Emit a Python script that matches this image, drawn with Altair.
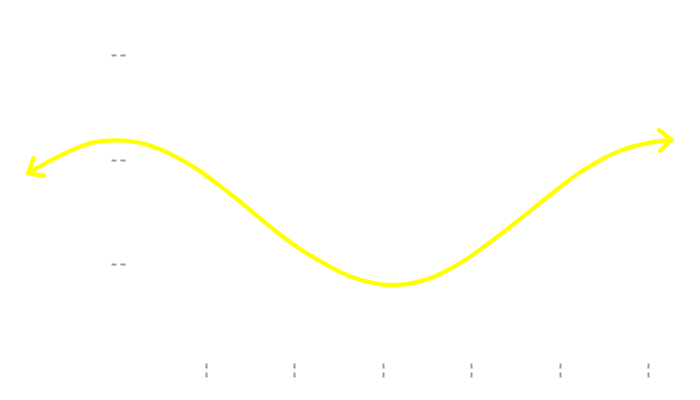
import altair as alt
import pandas as pd

# curve samples (data units)
curve_x = [-1.01, -0.727, -0.350, -0.199, -0.010, 0.178, 0.367, 0.555, 0.743, 0.932,
           1.121, 1.309, 1.498, 1.687, 1.874, 2.063, 2.252, 2.440, 2.606, 2.893,
           3.138, 3.383, 3.571, 3.760, 3.949, 4.137, 4.326, 4.515, 4.703, 4.891,
           5.080, 5.268, 5.457, 5.646, 5.834, 6.023, 6.268]
curve_y = [0.868, 1.011, 1.155, 1.177, 1.187, 1.177, 1.139, 1.075, 0.989, 0.893,
           0.772, 0.651, 0.517, 0.383, 0.256, 0.141, 0.045, -0.045, -0.116, -0.190,
           -0.211, -0.179, -0.127, -0.051, 0.045, 0.160, 0.280, 0.405, 0.533, 0.660,
           0.788, 0.900, 0.995, 1.075, 1.129, 1.163, 1.189]

# arrow heads at both ends of the curve (direction in degrees, clockwise)
head_angle = [149, 357]

x_ticks = [1, 2, 3, 4, 5, 6]
y_ticks = [0, 1, 2]

x_domain = [0.0837, 6.362]
y_domain = [-0.947, 2.115]

YELLOW = "#ffff00"
TICK = "#999999"

curve = pd.DataFrame({"x": curve_x, "y": curve_y, "order": list(range(len(curve_x)))})
heads = pd.DataFrame({
    "x": [curve_x[0], curve_x[-1]],
    "y": [curve_y[0], curve_y[-1]],
    "angle": head_angle,
})

x_axis = alt.Axis(values=x_ticks, labels=False, domain=False, grid=False, title=None,
                  tickDash=[5, 4], tickSize=14, tickColor=TICK, tickWidth=2)
y_axis = alt.Axis(values=y_ticks, labels=False, domain=False, grid=False, title=None,
                  tickDash=[5, 4], tickSize=14, tickColor=TICK, tickWidth=2)

xs = alt.Scale(domain=x_domain, nice=False, zero=False)
ys = alt.Scale(domain=y_domain, nice=False, zero=False)

line = alt.Chart(curve).mark_line(
    color=YELLOW, strokeWidth=4.3, interpolate="basis", clip=False,
    strokeCap="round", strokeJoin="round"
).encode(
    x=alt.X("x:Q", scale=xs, axis=x_axis),
    y=alt.Y("y:Q", scale=ys, axis=y_axis),
    order="order:Q",
)

arrow_shape = "M -1 -0.84 L 0 0 L -1 0.84"
arrows = alt.Chart(heads).mark_point(
    shape=arrow_shape, filled=False, stroke=YELLOW, strokeWidth=4.3, size=605,
    clip=False, opacity=1, strokeCap="round", strokeJoin="round"
).encode(
    x=alt.X("x:Q", scale=xs),
    y=alt.Y("y:Q", scale=ys),
    angle=alt.Angle("angle:Q", scale=None),
)

chart = alt.layer(line, arrows).properties(
    width=555, height=320,
    autosize=alt.AutoSizeParams(type="none"),
    padding={"left": 117, "top": 35, "right": 5, "bottom": 20},
).configure_view(stroke=None)

chart.save("out.html", embed_options={"renderer": "svg", "actions": False})
